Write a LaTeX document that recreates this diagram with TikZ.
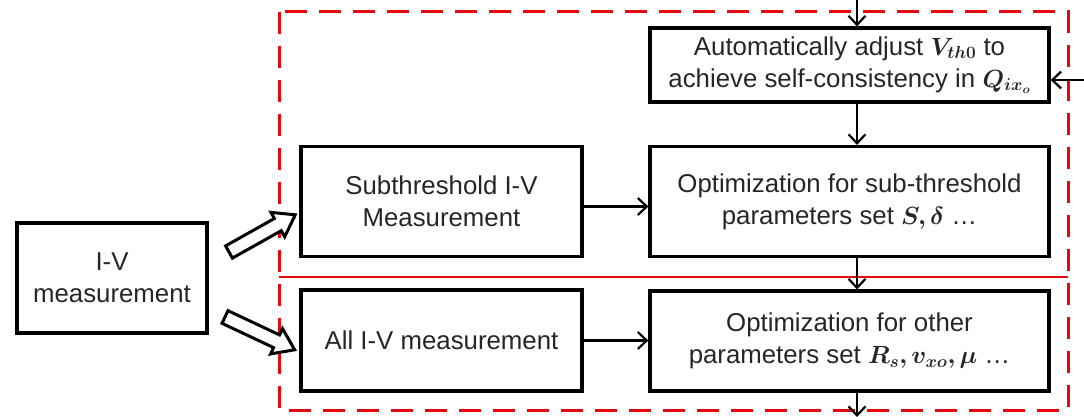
\documentclass[tikz,border=0pt]{standalone}
\usepackage{fontspec}
\setmainfont{Liberation Sans}
\usepackage{amsmath,bm}
\usetikzlibrary{arrows.meta,calc}
\definecolor{framered}{rgb}{0.90,0.04,0.06}
\begin{document}
\begin{tikzpicture}[x=1pt,y=-1pt,
  font=\fontsize{25.8}{32}\selectfont,
  stepbox/.style={draw=black, line width=3.2pt, text=black!85, align=center,
    inner sep=0pt, minimum width=#1},
  flow/.style={line width=2.2pt, -{Straight Barb[length=9pt,width=17pt,line width=2.2pt]}},
  fatarrow/.style={draw=black, line width=3pt, fill=white, line join=miter},
  groupframe/.style={draw=framered, line width=3pt, dash pattern=on 22pt off 12pt},
  groupsplit/.style={draw=framered, line width=2.4pt}]
\useasboundingbox (0,0) rectangle (1084,417);

% red grouping frame and its divider
\draw[groupframe] (279,12) rectangle (1068,410);
\draw[groupsplit] (279,277) -- (1068,277);

% process boxes
\node[stepbox=399pt, minimum height=74pt] (adj) at (849.5,65)
  {Automatically adjust $\bm{V_{th0}}$ to\\achieve self-consistency in $\bm{Q_{ix_o}}$};
\node[stepbox=399pt, minimum height=110pt] (optsub) at (849.5,201.5)
  {Optimization for sub-threshold\\parameters set $\bm{S,\delta}$ \dots};
\node[stepbox=281pt, minimum height=110pt] (sub) at (441.5,201.5)
  {Subthreshold I-V\\Measurement};
\node[stepbox=190pt, minimum height=110pt] (iv) at (112,278)
  {I-V\\measurement};
\node[stepbox=281pt, minimum height=101pt] (all) at (441.5,340.5)
  {All I-V measurement};
\node[stepbox=399pt, minimum height=100pt] (optoth) at (849.5,341)
  {Optimization for other\\parameters set $\bm{R_s,v_{xo},\mu}$ \dots};

% hollow block arrows from the measurement box
\newcommand{\hollowarrow}[3]{%
  \begin{scope}[shift={#1}, rotate=#2]
    \draw[fatarrow] (0,-7) -- (#3-20,-7) -- (#3-20,-14) -- (#3,0)
      -- (#3-20,14) -- (#3-20,7) -- (0,7) -- cycle;
  \end{scope}}
\hollowarrow{(229,252)}{29.3}{76}
\hollowarrow{(225,317)}{-25.2}{77}

% flow connectors
\coordinate (col) at (857,0);
\coordinate (inTop) at (857,0);
\coordinate (inRight) at (1084,80);
\coordinate (outBot) at (857,417);
\draw[flow] (inTop) -- (adj.north -| col);
\draw[flow] (inRight) -- (adj.east |- inRight);
\draw[flow] (adj.south -| col) -- (optsub.north -| col);
\draw[flow] ($(sub.east)+(0,5)$) -- ($(optsub.west)+(0,5)$);
\draw[flow] (optsub.south -| col) -- (optoth.north -| col);
\draw[flow] (all.east) -- (optoth.west |- all.east);
\draw[flow] (optoth.south -| col) -- (outBot);
\end{tikzpicture}
\end{document}
